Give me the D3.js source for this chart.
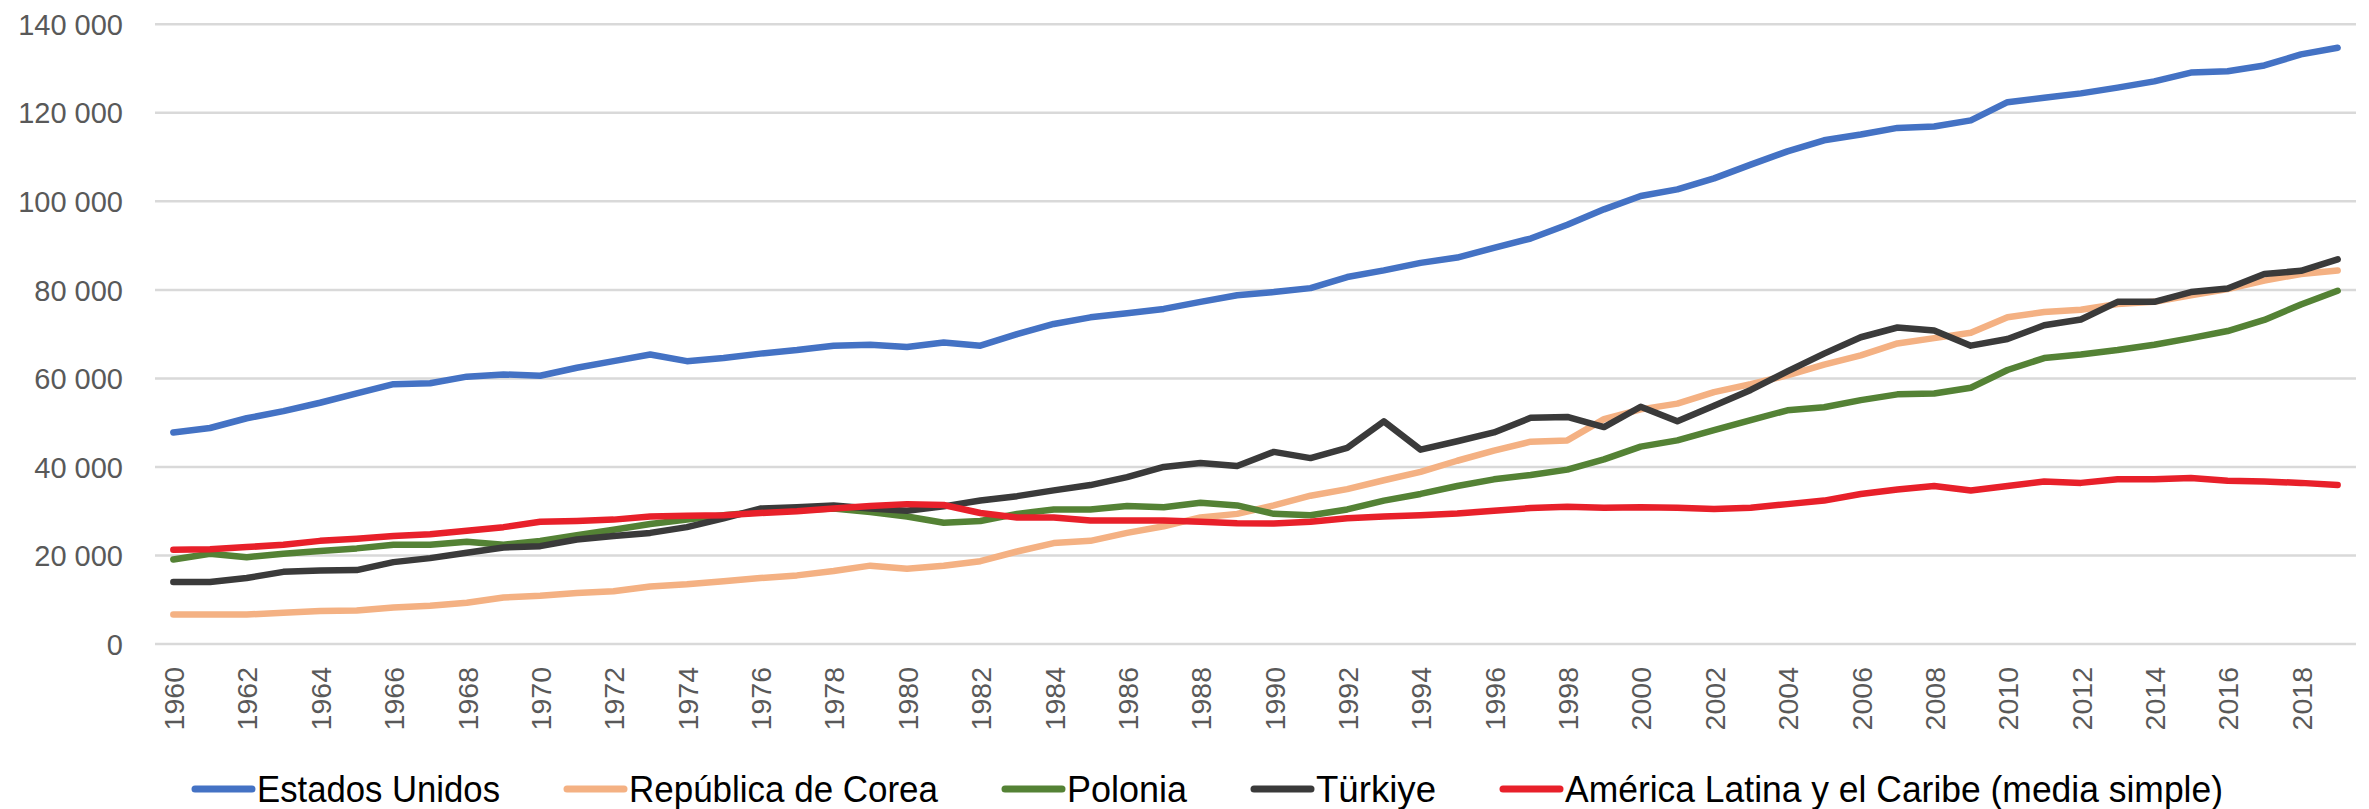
<!DOCTYPE html>
<html>
<head>
<meta charset="utf-8">
<script src="https://cdn.jsdelivr.net/npm/d3@7"></script>
<style>
  body { margin: 0; background: #ffffff; }
  svg { display: block; }
  .axis text { fill: #595959; font-family: "Liberation Sans", Arial, sans-serif; }
  .legend text { fill: #000000; font-family: "Liberation Sans", Arial, sans-serif; }
</style>
</head>
<body>
<div id="chart"></div>
<script>
// Years on the x axis
var years = [];
for (var yr = 1960; yr <= 2019; yr++) { years.push(yr); }

// tick labels (every second year) and y ticks
var xTickYears = years.filter(function(d) { return d % 2 === 0; });
var yTicks = [0, 20000, 40000, 60000, 80000, 100000, 120000, 140000];

var seriesNames = ["Estados Unidos", "República de Corea", "Polonia", "Türkiye", "América Latina y el Caribe (media simple)"];
var seriesColors = ["#4472c4", "#f4b183", "#548235", "#3a3a3a", "#e8202a"];

// values, 1960 - 2019
var estadosUnidos = [47800, 48800, 51000, 52600, 54500, 56600, 58700, 58900, 60400, 60900,
  60600, 62400, 63900, 65400, 63900, 64600, 65600, 66400, 67400, 67600,
  67100, 68100, 67400, 70000, 72300, 73800, 74700, 75700, 77300, 78800,
  79500, 80400, 82900, 84400, 86100, 87300, 89500, 91600, 94700, 98200,
  101200, 102700, 105200, 108300, 111300, 113800, 115100, 116600, 116900, 118300,
  122400, 123400, 124400, 125700, 127100, 129100, 129400, 130700, 133200, 134700];

var corea = [6650, 6650, 6650, 7050, 7450, 7550, 8250, 8650, 9300, 10500,
  10900, 11500, 11900, 13000, 13500, 14200, 14900, 15500, 16500, 17700,
  17000, 17700, 18700, 20900, 22800, 23300, 25100, 26600, 28600, 29400,
  31300, 33500, 35000, 37000, 38900, 41400, 43700, 45700, 46000, 50800,
  53000, 54300, 56900, 58700, 60700, 63100, 65200, 67900, 69100, 70300,
  73800, 75000, 75500, 76800, 77300, 78800, 80200, 82100, 83600, 84400];

var polonia = [19100, 20400, 19600, 20400, 21000, 21600, 22400, 22400, 23100, 22400,
  23300, 24600, 25800, 27100, 28100, 29100, 29800, 30300, 30600, 29800,
  28800, 27400, 27800, 29400, 30400, 30400, 31200, 30900, 31900, 31300,
  29400, 29100, 30400, 32400, 33900, 35700, 37200, 38200, 39400, 41700,
  44600, 46000, 48300, 50600, 52800, 53500, 55100, 56400, 56600, 57900,
  61900, 64600, 65400, 66400, 67600, 69100, 70700, 73200, 76700, 79800];

var turkiye = [14000, 14000, 14900, 16300, 16600, 16700, 18500, 19400, 20600, 21800,
  22100, 23600, 24400, 25100, 26400, 28400, 30600, 30900, 31300, 30600,
  30100, 31100, 32400, 33400, 34700, 35900, 37700, 40000, 40900, 40200,
  43400, 42000, 44300, 50300, 43900, 45800, 47800, 51100, 51300, 49000,
  53600, 50300, 53800, 57400, 61600, 65600, 69300, 71500, 70800, 67400,
  68900, 72000, 73300, 77300, 77300, 79500, 80300, 83600, 84300, 86900];

var americaLatina = [21300, 21400, 21900, 22400, 23300, 23800, 24400, 24800, 25600, 26400,
  27600, 27800, 28100, 28800, 29000, 29100, 29600, 30000, 30600, 31200,
  31600, 31400, 29600, 28600, 28600, 27900, 27900, 27900, 27600, 27300,
  27200, 27600, 28400, 28800, 29100, 29500, 30100, 30700, 31000, 30800,
  30900, 30800, 30500, 30800, 31600, 32400, 33900, 34900, 35700, 34700,
  35700, 36700, 36400, 37200, 37200, 37500, 36900, 36700, 36400, 35900];

var seriesValues = [estadosUnidos, corea, polonia, turkiye, americaLatina];

// chart size and plot area
var width = 2369, height = 809;
var plotLeft = 155, plotRight = 2356, plotTop = 24.3, plotBottom = 644;

var svg = d3.select("#chart").append("svg")
  .attr("width", width)
  .attr("height", height);

var x = d3.scalePoint().domain(years).range([plotLeft, plotRight]).padding(0.5);
var y = d3.scaleLinear().domain([0, 140000]).range([plotBottom, plotTop]);

var fmt = d3.formatLocale({ decimal: ",", thousands: " ", grouping: [3], currency: ["", ""] }).format(",");

// horizontal grid lines
svg.append("g")
  .selectAll("line")
  .data(yTicks)
  .join("line")
  .attr("x1", plotLeft)
  .attr("x2", plotRight)
  .attr("y1", function(d) { return y(d); })
  .attr("y2", function(d) { return y(d); })
  .attr("stroke", "#d9d9d9")
  .attr("stroke-width", 2.5);

// y axis labels
var yAxis = svg.append("g")
  .attr("class", "axis")
  .attr("transform", "translate(" + (plotLeft - 32) + ",0)")
  .call(d3.axisLeft(y).tickValues(yTicks).tickSize(0).tickPadding(0).tickFormat(fmt));
yAxis.select(".domain").remove();
yAxis.selectAll("text").attr("font-size", 29).attr("dy", "0.35em");

// x axis labels, rotated
var xAxis = svg.append("g")
  .attr("class", "axis")
  .attr("transform", "translate(0," + plotBottom + ")")
  .call(d3.axisBottom(x).tickValues(xTickYears).tickSize(0));
xAxis.select(".domain").remove();
xAxis.selectAll("text")
  .attr("font-size", 28.5)
  .attr("text-anchor", "end")
  .attr("transform", "rotate(-90)")
  .attr("x", -23)
  .attr("y", 0)
  .attr("dy", "0.36em");

// the lines
var line = d3.line()
  .x(function(d, i) { return x(years[i]); })
  .y(function(d) { return y(d); });

svg.append("g")
  .selectAll("path")
  .data(seriesValues)
  .join("path")
  .attr("d", line)
  .attr("fill", "none")
  .attr("stroke", function(d, i) { return seriesColors[i]; })
  .attr("stroke-width", 6.5)
  .attr("stroke-linejoin", "round")
  .attr("stroke-linecap", "round");

// legend along the bottom
// the original uses a narrow font, so squeeze each label to its width
var legendWidths = [243, 309, 120, 120, 658];
var legend = svg.append("g").attr("class", "legend");
var legendX = 195;
var legendY = 789;
for (var i = 0; i < seriesNames.length; i++) {
  legend.append("line")
    .attr("x1", legendX)
    .attr("x2", legendX + 57)
    .attr("y1", legendY)
    .attr("y2", legendY)
    .attr("stroke", seriesColors[i])
    .attr("stroke-width", 7)
    .attr("stroke-linecap", "round");
  legend.append("text")
    .attr("x", legendX + 62)
    .attr("y", legendY + 13)
    .attr("font-size", 36)
    .attr("textLength", legendWidths[i])
    .attr("lengthAdjust", "spacingAndGlyphs")
    .text(seriesNames[i]);
  legendX = legendX + 62 + legendWidths[i] + 67;
}
</script>
</body>
</html>
